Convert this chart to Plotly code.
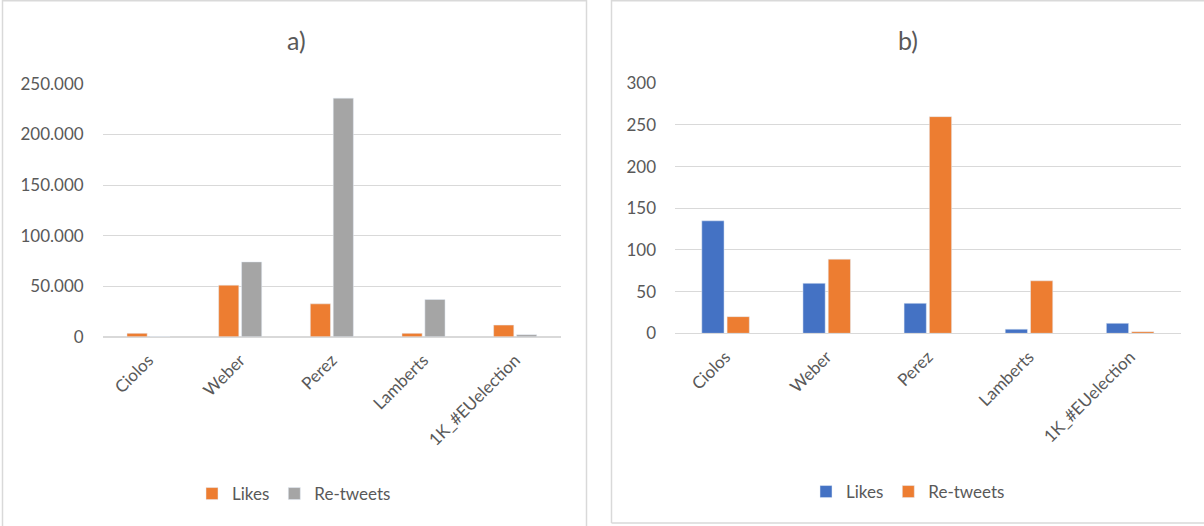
import plotly.graph_objects as go

W, H = 1204, 526

categories = ["Ciolos", "Weber", "Perez", "Lamberts", "1K_#EUelection"]
a_likes = [3300, 51000, 32500, 3300, 11500]
a_retweets = [0, 74000, 236000, 36800, 2000]
b_likes = [135, 60, 36, 5, 12]
b_retweets = [20, 89, 260, 63, 2]

ORANGE = "#ED7D31"
GRAY = "#A5A5A5"
BLUE = "#4472C4"
TXT = "#595959"
GRID = "#D9D9D9"
FONT = "Lato, Open Sans, sans-serif"


def px(x):
    return x / W


def py(y):
    return 1 - y / H


fig = go.Figure()
fig.add_trace(go.Bar(x=categories, y=a_likes, name="Likes", marker_color=ORANGE,
                     xaxis="x", yaxis="y", legend="legend"))
fig.add_trace(go.Bar(x=categories, y=a_retweets, name="Re-tweets", marker_color=GRAY,
                     xaxis="x", yaxis="y", legend="legend"))
fig.add_trace(go.Bar(x=categories, y=b_likes, name="Likes", marker_color=BLUE,
                     xaxis="x2", yaxis="y2", legend="legend2"))
fig.add_trace(go.Bar(x=categories, y=b_retweets, name="Re-tweets", marker_color=ORANGE,
                     xaxis="x2", yaxis="y2", legend="legend2"))

tickfont = dict(family=FONT, size=17, color=TXT)

xcommon = dict(tickangle=-45, tickfont=tickfont, showgrid=False, showline=True,
               linecolor=GRID, linewidth=1, ticks="", fixedrange=True, automargin=False,
               ticklabelstandoff=6)
ycommon = dict(tickfont=tickfont, showgrid=True, gridcolor=GRID, gridwidth=1,
               zeroline=True, zerolinecolor=GRID, zerolinewidth=1, showline=False,
               ticks="", ticklabelstandoff=18, automargin=False)


def hline(x0, x1, y):
    return dict(type="line", xref="paper", yref="paper", x0=px(x0), x1=px(x1),
                y0=py(y), y1=py(y), line=dict(color=GRID, width=1.5), layer="below")


def vline(x, y0, y1):
    return dict(type="line", xref="paper", yref="paper", x0=px(x), x1=px(x),
                y0=py(y0), y1=py(y1), line=dict(color=GRID, width=1.5), layer="below")


fig.update_layout(
    width=W, height=H,
    margin=dict(l=0, r=0, t=0, b=0, pad=0, autoexpand=False),
    paper_bgcolor="white", plot_bgcolor="white",
    separators=",.",
    barmode="group", bargap=0.5, bargroupgap=0.12,
    font=dict(family=FONT, color=TXT),
    xaxis=dict(domain=[px(102.7), px(561)], anchor="y", **xcommon),
    yaxis=dict(domain=[py(336.7), py(84)], anchor="x", range=[0, 250000], dtick=50000,
               tickformat=",", **ycommon),
    xaxis2=dict(domain=[px(675), px(1180.7)], anchor="y2", **xcommon),
    yaxis2=dict(domain=[py(333.3), py(83.3)], anchor="x2", range=[0, 300], dtick=50,
                **ycommon),
    legend=dict(orientation="h", x=px(294), y=py(494), xanchor="center", yanchor="middle",
                font=dict(family=FONT, size=17, color=TXT), itemwidth=30,
                bgcolor="rgba(0,0,0,0)"),
    legend2=dict(orientation="h", x=px(908), y=py(492), xanchor="center", yanchor="middle",
                 font=dict(family=FONT, size=17, color=TXT), itemwidth=30,
                 bgcolor="rgba(0,0,0,0)"),
    annotations=[
        dict(text="a)", x=px(296), y=py(40), xref="paper", yref="paper", showarrow=False,
             xanchor="center", yanchor="middle", font=dict(family=FONT, size=25, color=TXT)),
        dict(text="b)", x=px(908), y=py(40), xref="paper", yref="paper", showarrow=False,
             xanchor="center", yanchor="middle", font=dict(family=FONT, size=25, color=TXT)),
    ],
    shapes=[
        vline(2.5, 0, 526), hline(2.5, 586.5, 0.75), vline(586.5, 0, 526),
        vline(611.5, 0, 523), hline(611.5, 1204, 0.75), hline(611.5, 1204, 523),
    ],
)

fig.write_html("out.html", config={"displayModeBar": False})
